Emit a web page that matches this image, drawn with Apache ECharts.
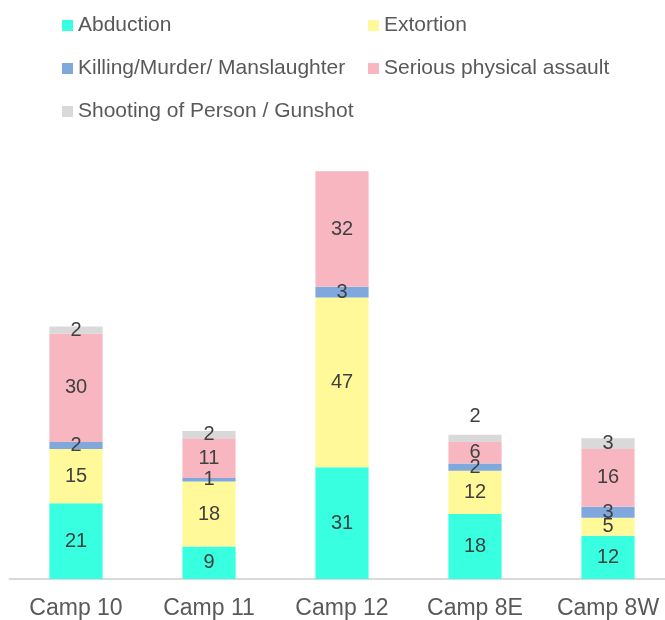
<!DOCTYPE html>
<html>
<head>
<meta charset="utf-8">
<script src="https://cdn.jsdelivr.net/npm/echarts@6/dist/echarts.min.js"></script>
<style>
  html, body { margin: 0; padding: 0; background: #fff; }
  #chart { width: 665px; height: 620px; }
</style>
</head>
<body>
<div id="chart"></div>
<script>
const camps = ['Camp 10', 'Camp 11', 'Camp 12', 'Camp 8E', 'Camp 8W'];
const abduction = [21, 9, 31, 18, 12];
const extortion = [15, 18, 47, 12, 5];
const killing = [2, 1, 3, 2, 3];
const assault = [30, 11, 32, 6, 16];
const shooting = [2, 2, 0, 2, 3];

const labelStyle = {
  show: true,
  position: 'inside',
  color: '#404040',
  fontSize: 20,
  fontFamily: 'Liberation Sans, Arial, sans-serif',
  formatter: p => (p.value ? p.value : '')
};

const makeSeries = (name, data, color) => ({
  name: name,
  type: 'bar',
  stack: 'total',
  barWidth: '40%',
  data: data,
  itemStyle: { color: color },
  label: labelStyle
});

const chart = echarts.init(document.getElementById('chart'));

// the 8E shooting label sits above its bar in the original
const shootingData = shooting.map((v, i) =>
  i === 3 ? { value: v, label: { offset: [0, -22] } } : v
);

const legendText = {
  color: '#595959',
  fontSize: 21,
  lineHeight: 21,
  fontFamily: 'Liberation Sans, Arial, sans-serif'
};

chart.setOption({
  animation: false,
  legend: [
    {
      orient: 'vertical',
      left: 57,
      top: 10,
      itemWidth: 11,
      itemHeight: 11,
      itemGap: 22,
      icon: 'rect',
      textStyle: legendText,
      data: ['Abduction', 'Killing/Murder/ Manslaughter', 'Shooting of Person / Gunshot']
    },
    {
      orient: 'vertical',
      left: 363,
      top: 10,
      itemWidth: 11,
      itemHeight: 11,
      itemGap: 22,
      icon: 'rect',
      textStyle: legendText,
      data: ['Extortion', 'Serious physical assault']
    }
  ],
  grid: {
    left: 9.5,
    width: 665,
    top: 146,
    bottom: 41,
    outerBoundsMode: 'none'
  },
  xAxis: {
    type: 'category',
    data: camps,
    axisLine: { lineStyle: { color: '#d9d9d9', width: 2 } },
    axisTick: { show: false },
    axisLabel: {
      interval: 0,
      color: '#595959',
      fontSize: 23,
      margin: 18,
      fontFamily: 'Liberation Sans, Arial, sans-serif'
    }
  },
  yAxis: {
    type: 'value',
    min: 0,
    max: 120,
    show: false
  },
  series: [
    makeSeries('Abduction', abduction, '#38ffdf'),
    makeSeries('Extortion', extortion, '#fff99a'),
    makeSeries('Killing/Murder/ Manslaughter', killing, '#7fa8dc'),
    makeSeries('Serious physical assault', assault, '#f8b7c0'),
    makeSeries('Shooting of Person / Gunshot', shootingData, '#d9d9d9')
  ]
});
</script>
</body>
</html>
